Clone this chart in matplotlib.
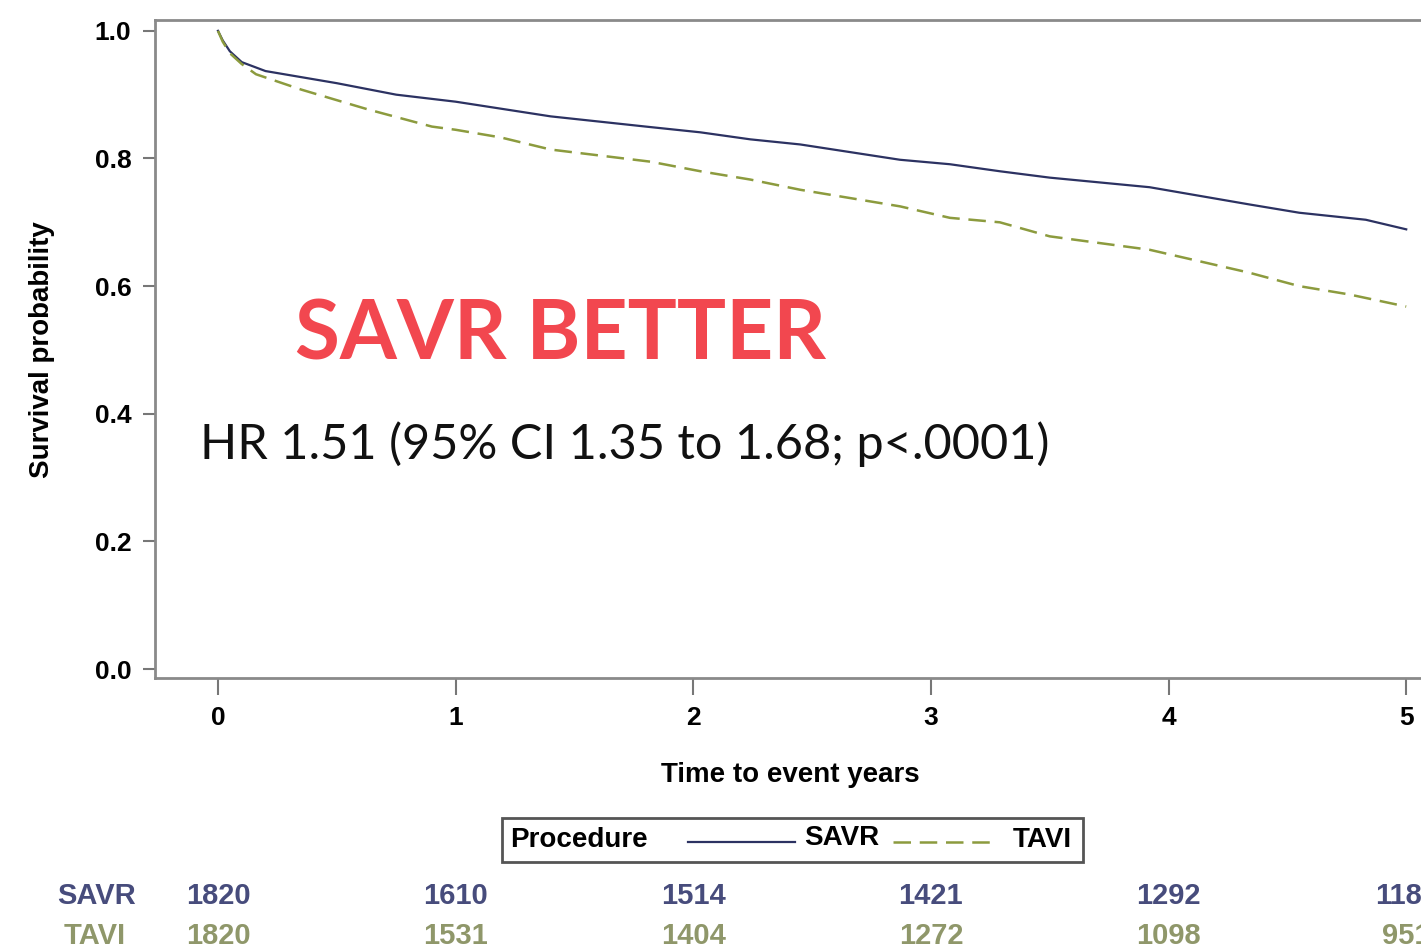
import matplotlib
matplotlib.use("Agg")
import matplotlib.pyplot as plt
from matplotlib.lines import Line2D
from matplotlib.patches import Rectangle
import matplotlib.transforms as mtransforms

# Kaplan-Meier curves
savr_time = [0, 0.02, 0.05, 0.1, 0.2, 0.5, 0.75, 1.0, 1.4, 1.8, 2.03, 2.24,
             2.45, 2.87, 3.08, 3.29, 3.5, 3.92, 4.34, 4.55, 4.83, 5.0]
savr_surv = [1.0, 0.985, 0.968, 0.951, 0.937, 0.918, 0.900, 0.889, 0.866,
             0.850, 0.841, 0.830, 0.822, 0.798, 0.791, 0.780, 0.770, 0.755,
             0.728, 0.715, 0.704, 0.689]
tavi_time = [0, 0.02, 0.05, 0.1, 0.16, 0.35, 0.63, 0.9, 1.0, 1.19, 1.4, 1.82,
             2.03, 2.24, 2.45, 2.87, 3.08, 3.29, 3.5, 3.92, 4.34, 4.55, 4.76, 5.0]
tavi_surv = [1.0, 0.983, 0.965, 0.948, 0.932, 0.908, 0.877, 0.850, 0.845,
             0.833, 0.814, 0.795, 0.780, 0.767, 0.751, 0.725, 0.707, 0.700,
             0.678, 0.657, 0.621, 0.600, 0.587, 0.568]

# numbers at risk
risk_years = [0, 1, 2, 3, 4, 5]
savr_risk = [1820, 1610, 1514, 1421, 1292, 1187]
tavi_risk = [1820, 1531, 1404, 1272, 1098, 951]

savr_color = "#2c3262"
tavi_color = "#8c9b3e"
savr_num_color = "#474c7c"
tavi_num_color = "#8f976a"
W, H = 1421, 951
FS = 20


def fx(px):
    return px / W


def fy(py):
    return 1 - py / H


fig = plt.figure(figsize=(14.21, 9.51), dpi=100)
ax = fig.add_axes([fx(155), fy(678), fx(1449) - fx(155), fy(20) - fy(678)])

ax.plot(savr_time, savr_surv, color=savr_color, lw=1.6)
ax.plot(tavi_time, tavi_surv, color=tavi_color, lw=1.8, dashes=(7, 3.5))

ax.set_xlim(-0.265, 5.18)
ax.set_ylim(-0.014, 1.017)
ax.set_xticks(risk_years)
ax.set_yticks([0, 0.2, 0.4, 0.6, 0.8, 1.0])
ax.set_yticklabels(["0.0", "0.2", "0.4", "0.6", "0.8", "1.0"])

for s in ax.spines.values():
    s.set_color("#8a8a8a")
    s.set_linewidth(2)

ax.tick_params(axis="x", length=12, width=1.5, color="#777777", pad=8)
ax.tick_params(axis="y", length=9, width=1.5, color="#777777", pad=8)
for lab in ax.get_xticklabels() + ax.get_yticklabels():
    lab.set_fontfamily("Liberation Sans")
    lab.set_fontweight("bold")
    lab.set_fontsize(19)

fig.text(fx(42), fy(350), "Survival probability", rotation=90, ha="center",
         va="center", fontsize=FS, fontweight="bold", family="Liberation Sans")
fig.text(fx(790), fy(775), "Time to event years", ha="center", va="center",
         fontsize=FS, fontweight="bold", family="Liberation Sans")

# annotations
fig.text(fx(295), fy(360), "SAVR BETTER", color="#f2474f", fontsize=59,
         fontweight="bold", family="Lato", va="baseline")
fig.text(fx(200), fy(459), "HR 1.51 (95% CI 1.35 to 1.68; p<.0001)",
         color="#111111", fontsize=35, family="Lato", va="baseline")

# legend box
fig.patches.append(Rectangle((fx(502), fy(862)), fx(1083) - fx(502),
                             fy(818) - fy(862), transform=fig.transFigure,
                             fill=False, edgecolor="#555555", lw=2))
fig.text(fx(510), fy(840), "Procedure", fontsize=FS, fontweight="bold",
         family="Liberation Sans", va="center")
fig.lines.append(Line2D([fx(688), fx(795)], [fy(842), fy(842)],
                        transform=fig.transFigure, color=savr_color, lw=1.6))
fig.text(fx(804), fy(838), "SAVR", fontsize=FS, fontweight="bold",
         family="Liberation Sans", va="center")
fig.lines.append(Line2D([fx(893), fx(995)], [fy(842), fy(842)],
                        transform=fig.transFigure, color=tavi_color, lw=1.8,
                        dashes=(7, 3.5)))
fig.text(fx(1013), fy(840), "TAVI", fontsize=FS, fontweight="bold",
         family="Liberation Sans", va="center")

# numbers at risk table
trans = mtransforms.blended_transform_factory(ax.transData, fig.transFigure)
fig.text(fx(97), fy(896), "SAVR", color=savr_num_color, fontsize=21,
         fontweight="bold", family="Liberation Sans", ha="center", va="center")
fig.text(fx(95), fy(936), "TAVI", color=tavi_num_color, fontsize=21,
         fontweight="bold", family="Liberation Sans", ha="center", va="center")
for yr, s, t in zip(risk_years, savr_risk, tavi_risk):
    ax.text(yr, fy(896), str(s), transform=trans, color=savr_num_color,
            fontsize=21, fontweight="bold", family="Liberation Sans",
            ha="center", va="center", clip_on=False)
    ax.text(yr, fy(936), str(t), transform=trans, color=tavi_num_color,
            fontsize=21, fontweight="bold", family="Liberation Sans",
            ha="center", va="center", clip_on=False)

fig.savefig("out.png", dpi=100)
